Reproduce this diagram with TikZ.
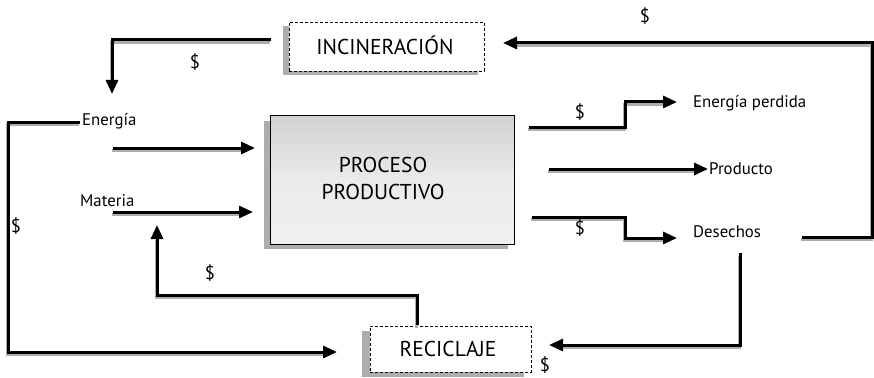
\documentclass[tikz,border=0pt]{standalone}
\usepackage{fontspec}
\setmainfont{PT Sans}
\usetikzlibrary{arrows.meta}
\definecolor{shad}{gray}{0.68}
\begin{document}
\begin{tikzpicture}[x=1pt,y=-1pt,
  flow/.style={line width=3pt,line join=miter,-{Triangle[length=14pt,width=12pt]},
    preaction={draw=shad,line width=3pt,arrows=-,shorten >=12pt,transform canvas={xshift=-1pt,yshift=-2.6pt}}},
  dbox/.style={draw,dashed,dash pattern=on 3pt off 2pt,line width=0.7pt,fill=white,inner sep=0pt},
  bigtxt/.style={font=\fontsize{21.5}{25}\selectfont,inner sep=0pt},
  smalltxt/.style={font=\fontsize{16.8}{19}\selectfont,inner sep=0pt},
  dollar/.style={font=\fontsize{18.5}{21}\selectfont,inner sep=0pt}
]
\useasboundingbox (0,0) rectangle (874,377);
% boxes with shadows
\fill[shad] (283,26) rectangle (478,75);
\node[dbox,minimum width=195pt,minimum height=49pt] (inc) at (386.5,46.5) {};
\node[bigtxt] (inctext) at (385,45) {INCINERACIÓN};

\fill[shad] (264,121) rectangle (508,249);
\node[draw,line width=0.8pt,minimum width=244pt,minimum height=129pt,inner sep=0pt,
  top color=black!18,bottom color=black!6,middle color=black!8] (proc) at (392,179.5) {};
\node[bigtxt,align=center] (proctext) at (383,178) {PROCESO\\[2pt]PRODUCTIVO};

\fill[shad] (362,331) rectangle (524,377);
\node[dbox,minimum width=161pt,minimum height=46pt] (rec) at (450.5,349) {};
\node[bigtxt] (rectext) at (448,349) {RECICLAJE};

% labels
\node[smalltxt,anchor=west] (energia) at (82,121) {Energía};
\node[smalltxt,anchor=west] (materia) at (80,201) {Materia};
\node[smalltxt,anchor=west] (eperd) at (693,103) {Energía perdida};
\node[smalltxt,anchor=west] (prod) at (709,169) {Producto};
\node[smalltxt,anchor=west] (desech) at (693,232) {Desechos};

% coordinates
\coordinate (incout) at (271,40);
\coordinate (incdown) at (112,94);
\coordinate (desR) at (802,237);
\coordinate (topR) at (872,43);
\coordinate (incin) at (503,43);
\coordinate (enL) at (80,122);
\coordinate (loopL) at (8,352);
\coordinate (recin) at (337,352);
\coordinate (enA) at (113,148);
\coordinate (enB) at (255,148);
\coordinate (maA) at (113,212);
\coordinate (maB) at (253,212);
\coordinate (recout) at (417,325);
\coordinate (recmid) at (417,295);
\coordinate (maup) at (157,225);
\coordinate (epA) at (529,127);
\coordinate (epB) at (677,102);
\coordinate (prA) at (549,169);
\coordinate (prB) at (708,169);
\coordinate (deA) at (532,217);
\coordinate (deB) at (677,238);
\coordinate (desdown) at (740,253);
\coordinate (recR) at (549,345);

% connectors
\draw[flow] (incout) -| (incdown);
\draw[flow] (desR) -| (topR) -- (incin);
\draw[flow] (enL) -| (loopL) -- (recin);
\draw[flow] (enA) -- (enB);
\draw[flow] (maA) -- (maB);
\draw[flow] (recout) -- (recmid) -| (maup);
\draw[flow] (epA) -- (625,127) |- (epB);
\draw[flow] (prA) -- (prB);
\draw[flow] (deA) -- (625,217) |- (deB);
\draw[flow] (desdown) |- (recR);

% dollar signs
\node[dollar] (d1) at (645,16) {\$};
\node[dollar] (d2) at (195,62) {\$};
\node[dollar] (d3) at (16,226) {\$};
\node[dollar] (d4) at (210,273) {\$};
\node[dollar] (d5) at (580,112) {\$};
\node[dollar] (d6) at (580,228) {\$};
\node[dollar] (d7) at (545,365) {\$};
\end{tikzpicture}
\end{document}
